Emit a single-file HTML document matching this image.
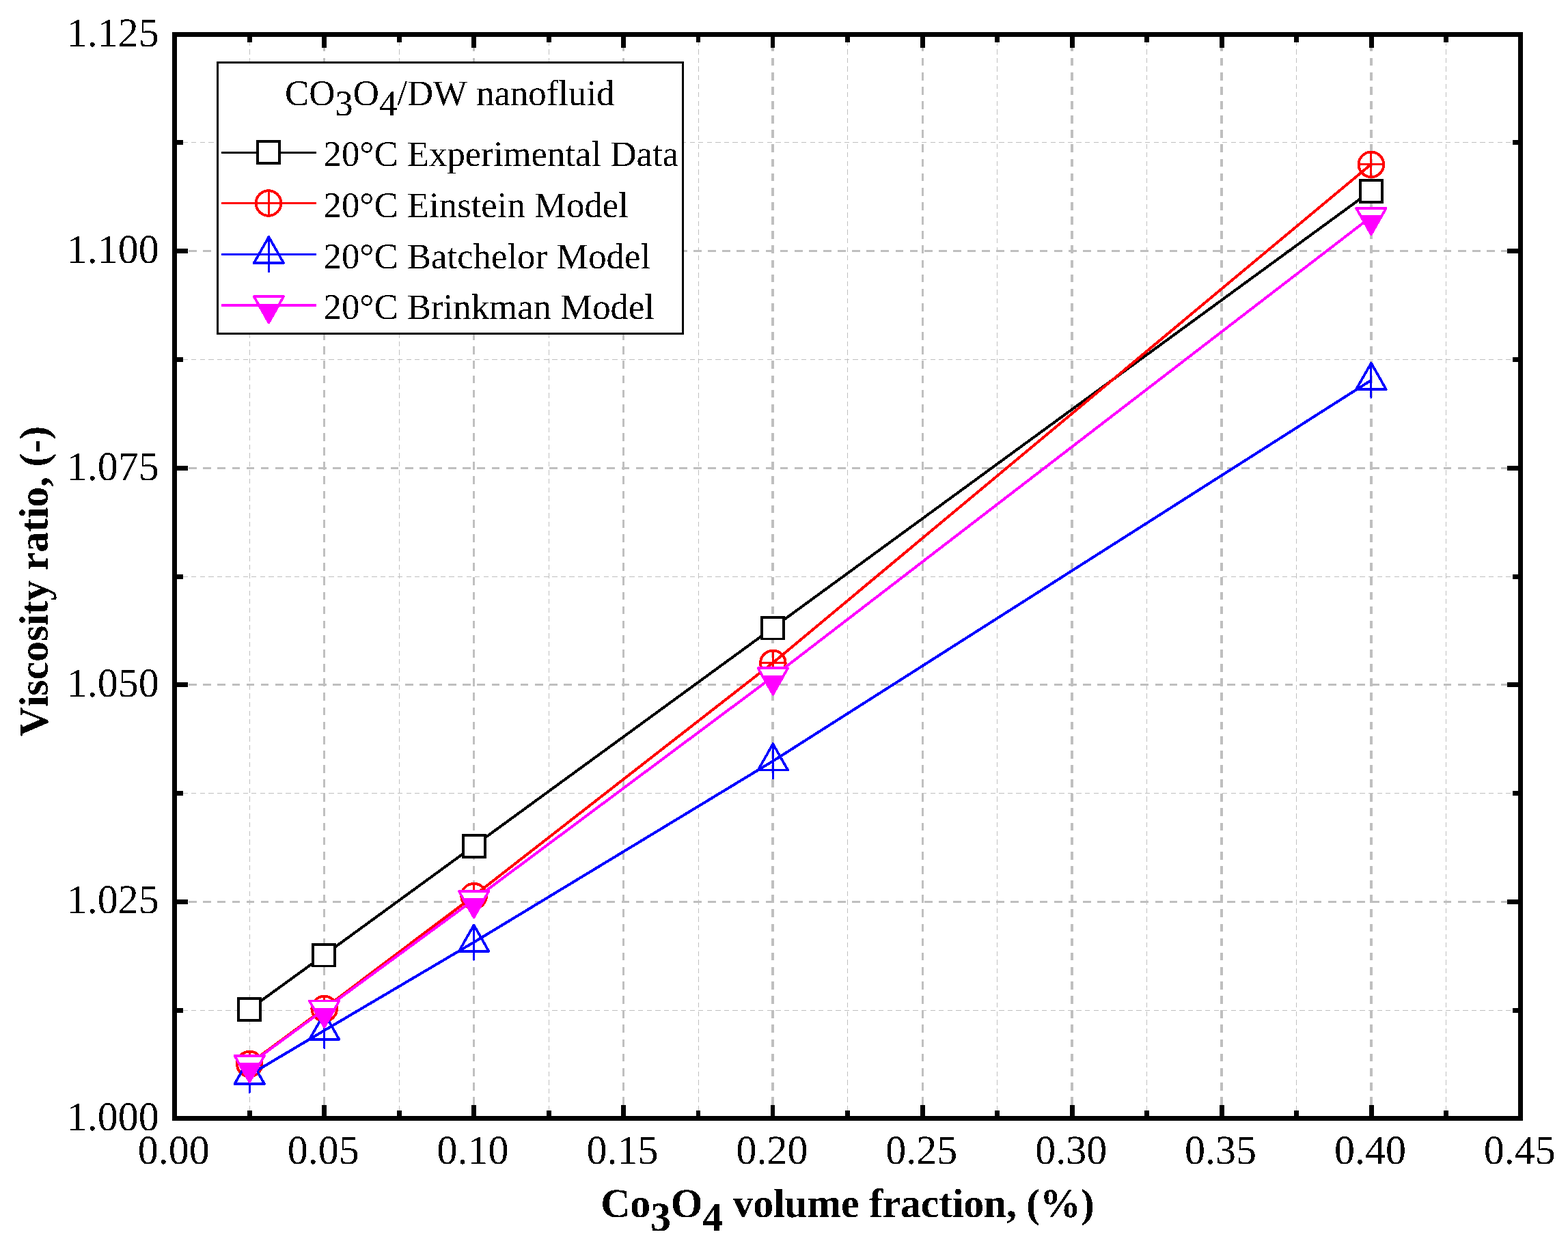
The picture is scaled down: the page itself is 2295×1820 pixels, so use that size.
<!DOCTYPE html>
<html lang="en">
<head>
<meta charset="utf-8">
<title>Viscosity ratio vs Co3O4 volume fraction</title>
<style>html,body{margin:0;padding:0;background:#ffffff;}body{width:2295px;height:1820px;overflow:hidden;}svg{display:block;}</style>
</head>
<body>
<svg width="2295" height="1820" viewBox="0 0 2295 1820">
<rect x="0" y="0" width="2295" height="1820" fill="#ffffff"/>
<g fill="none" stroke="#bfbfbf" shape-rendering="crispEdges">
<line x1="365.5" y1="1638.9" x2="365.5" y2="50.5" stroke-width="1" stroke-dasharray="7.3 5.275"/>
<line x1="584.5" y1="1638.9" x2="584.5" y2="50.5" stroke-width="1" stroke-dasharray="7.3 5.275"/>
<line x1="803.5" y1="1638.9" x2="803.5" y2="50.5" stroke-width="1" stroke-dasharray="7.3 5.275"/>
<line x1="1022.5" y1="1638.9" x2="1022.5" y2="50.5" stroke-width="1" stroke-dasharray="7.3 5.275"/>
<line x1="1240.5" y1="1638.9" x2="1240.5" y2="50.5" stroke-width="1" stroke-dasharray="7.3 5.275"/>
<line x1="1459.5" y1="1638.9" x2="1459.5" y2="50.5" stroke-width="1" stroke-dasharray="7.3 5.275"/>
<line x1="1678.5" y1="1638.9" x2="1678.5" y2="50.5" stroke-width="1" stroke-dasharray="7.3 5.275"/>
<line x1="1897.5" y1="1638.9" x2="1897.5" y2="50.5" stroke-width="1" stroke-dasharray="7.3 5.275"/>
<line x1="2116.5" y1="1638.9" x2="2116.5" y2="50.5" stroke-width="1" stroke-dasharray="7.3 5.275"/>
<line x1="255.0" y1="1479.5" x2="2225.5" y2="1479.5" stroke-width="1" stroke-dasharray="7.3 5.275"/>
<line x1="255.0" y1="1161.5" x2="2225.5" y2="1161.5" stroke-width="1" stroke-dasharray="7.3 5.275"/>
<line x1="255.0" y1="844.5" x2="2225.5" y2="844.5" stroke-width="1" stroke-dasharray="7.3 5.275"/>
<line x1="255.0" y1="526.5" x2="2225.5" y2="526.5" stroke-width="1" stroke-dasharray="7.3 5.275"/>
<line x1="255.0" y1="208.5" x2="2225.5" y2="208.5" stroke-width="1" stroke-dasharray="7.3 5.275"/>
<line x1="474.5" y1="1638.9" x2="474.5" y2="50.5" stroke-width="3" stroke-dasharray="11.7 9.43"/>
<line x1="693.5" y1="1638.9" x2="693.5" y2="50.5" stroke-width="3" stroke-dasharray="11.7 9.43"/>
<line x1="912.5" y1="1638.9" x2="912.5" y2="50.5" stroke-width="3" stroke-dasharray="11.7 9.43"/>
<line x1="1131.0" y1="1638.9" x2="1131.0" y2="50.5" stroke-width="4" stroke-dasharray="11.7 9.43"/>
<line x1="1350.5" y1="1638.9" x2="1350.5" y2="50.5" stroke-width="3" stroke-dasharray="11.7 9.43"/>
<line x1="1569.0" y1="1638.9" x2="1569.0" y2="50.5" stroke-width="4" stroke-dasharray="11.7 9.43"/>
<line x1="1788.0" y1="1638.9" x2="1788.0" y2="50.5" stroke-width="4" stroke-dasharray="11.7 9.43"/>
<line x1="2007.0" y1="1638.9" x2="2007.0" y2="50.5" stroke-width="4" stroke-dasharray="11.7 9.43"/>
<line x1="255.1" y1="1320.5" x2="2225.5" y2="1320.5" stroke-width="3" stroke-dasharray="11.7 9.41"/>
<line x1="255.1" y1="1002.5" x2="2225.5" y2="1002.5" stroke-width="3" stroke-dasharray="11.7 9.41"/>
<line x1="255.1" y1="685.5" x2="2225.5" y2="685.5" stroke-width="3" stroke-dasharray="11.7 9.41"/>
<line x1="255.1" y1="367.5" x2="2225.5" y2="367.5" stroke-width="3" stroke-dasharray="11.7 9.41"/>
</g>
<g shape-rendering="crispEdges">
<polyline points="365.24,1478.00 474.69,1398.60 693.58,1239.00 1131.36,919.60 2006.91,280.00" fill="none" stroke="#000000" stroke-width="4" stroke-linejoin="round" transform="translate(0 -0.45)"/>
<rect x="347" y="1460" width="36" height="36" fill="#000000"/><rect x="351" y="1464" width="28" height="28" fill="#ffffff"/>
<rect x="456" y="1381" width="36" height="35" fill="#000000"/><rect x="460" y="1385" width="28" height="28" fill="#ffffff"/>
<rect x="676" y="1221" width="36" height="36" fill="#000000"/><rect x="680" y="1225" width="28" height="28" fill="#ffffff"/>
<rect x="1113" y="902" width="36" height="35" fill="#000000"/><rect x="1117" y="906" width="28" height="28" fill="#ffffff"/>
<rect x="1989" y="262" width="36" height="36" fill="#000000"/><rect x="1993" y="266" width="28" height="28" fill="#ffffff"/>
<polyline points="365.24,1557.90 474.69,1477.00 693.58,1312.10 1131.36,970.90 2006.91,240.90" fill="none" stroke="#ff0000" stroke-width="4" stroke-linejoin="round" transform="translate(0 -0.45)"/>
<circle cx="365.24" cy="1557.90" r="18.30" fill="none" stroke="#ff0000" stroke-width="3.9"/><path d="M346.94 1557.90H383.54M365.24 1539.60V1576.20" fill="none" stroke="#ff0000" stroke-width="3"/>
<circle cx="474.69" cy="1477.00" r="18.30" fill="none" stroke="#ff0000" stroke-width="3.9"/><path d="M456.39 1477.00H492.99M474.69 1458.70V1495.30" fill="none" stroke="#ff0000" stroke-width="3"/>
<circle cx="693.58" cy="1312.10" r="18.30" fill="none" stroke="#ff0000" stroke-width="3.9"/><path d="M675.28 1312.10H711.88M693.58 1293.80V1330.40" fill="none" stroke="#ff0000" stroke-width="3"/>
<circle cx="1131.36" cy="970.90" r="18.30" fill="none" stroke="#ff0000" stroke-width="3.9"/><path d="M1113.06 970.90H1149.66M1131.36 952.60V989.20" fill="none" stroke="#ff0000" stroke-width="3"/>
<circle cx="2006.91" cy="240.90" r="18.30" fill="none" stroke="#ff0000" stroke-width="3.9"/><path d="M1988.61 240.90H2025.21M2006.91 222.60V259.20" fill="none" stroke="#ff0000" stroke-width="3"/>
<polyline points="365.24,1574.30 474.69,1509.30 693.58,1380.10 1131.36,1114.80 2006.91,557.20" fill="none" stroke="#0000ff" stroke-width="4" stroke-linejoin="round" transform="translate(0 -0.45)"/>
<path d="M365.24 1548.70L387.04 1587.00L343.44 1587.00Z" fill="none" stroke="#0000ff" stroke-width="3.7" stroke-linejoin="round"/><path d="M365.24 1548.70V1599.30" fill="none" stroke="#0000ff" stroke-width="3" stroke-linecap="round"/>
<path d="M474.69 1483.70L496.49 1522.00L452.89 1522.00Z" fill="none" stroke="#0000ff" stroke-width="3.7" stroke-linejoin="round"/><path d="M474.69 1483.70V1534.30" fill="none" stroke="#0000ff" stroke-width="3" stroke-linecap="round"/>
<path d="M693.58 1354.50L715.38 1392.80L671.78 1392.80Z" fill="none" stroke="#0000ff" stroke-width="3.7" stroke-linejoin="round"/><path d="M693.58 1354.50V1405.10" fill="none" stroke="#0000ff" stroke-width="3" stroke-linecap="round"/>
<path d="M1131.36 1089.20L1153.16 1127.50L1109.56 1127.50Z" fill="none" stroke="#0000ff" stroke-width="3.7" stroke-linejoin="round"/><path d="M1131.36 1089.20V1139.80" fill="none" stroke="#0000ff" stroke-width="3" stroke-linecap="round"/>
<path d="M2006.91 531.60L2028.71 569.90L1985.11 569.90Z" fill="none" stroke="#0000ff" stroke-width="3.7" stroke-linejoin="round"/><path d="M2006.91 531.60V582.20" fill="none" stroke="#0000ff" stroke-width="3" stroke-linecap="round"/>
<polyline points="365.24,1558.80 474.69,1478.50 693.58,1317.90 1131.36,991.30 2006.91,317.90" fill="none" stroke="#ff00ff" stroke-width="4" stroke-linejoin="round" transform="translate(0 -0.45)"/>
<path d="M343.44 1545.80L387.04 1545.80L365.24 1584.20Z" fill="#ffffff" stroke="#ff00ff" stroke-width="3.7" stroke-linejoin="round"/><path d="M349.58 1556.60L380.91 1556.60L365.24 1584.20Z" fill="#ff00ff" stroke="#ff00ff" stroke-width="1"/>
<path d="M452.89 1465.50L496.49 1465.50L474.69 1503.90Z" fill="#ffffff" stroke="#ff00ff" stroke-width="3.7" stroke-linejoin="round"/><path d="M459.02 1476.30L490.36 1476.30L474.69 1503.90Z" fill="#ff00ff" stroke="#ff00ff" stroke-width="1"/>
<path d="M671.78 1304.90L715.38 1304.90L693.58 1343.30Z" fill="#ffffff" stroke="#ff00ff" stroke-width="3.7" stroke-linejoin="round"/><path d="M677.91 1315.70L709.25 1315.70L693.58 1343.30Z" fill="#ff00ff" stroke="#ff00ff" stroke-width="1"/>
<path d="M1109.56 978.30L1153.16 978.30L1131.36 1016.70Z" fill="#ffffff" stroke="#ff00ff" stroke-width="3.7" stroke-linejoin="round"/><path d="M1115.69 989.10L1147.02 989.10L1131.36 1016.70Z" fill="#ff00ff" stroke="#ff00ff" stroke-width="1"/>
<path d="M1985.11 304.90L2028.71 304.90L2006.91 343.30Z" fill="#ffffff" stroke="#ff00ff" stroke-width="3.7" stroke-linejoin="round"/><path d="M1991.24 315.70L2022.58 315.70L2006.91 343.30Z" fill="#ff00ff" stroke="#ff00ff" stroke-width="1"/>
</g>
<g fill="none" stroke="#000000" shape-rendering="crispEdges">
<rect x="255.5" y="50.5" width="1970.0" height="1587.0" stroke-width="7"/>
<path d="M365.5 54.0v8M365.5 1634.0v-8" stroke-width="7"/>
<path d="M474.5 54.0v16M474.5 1634.0v-16" stroke-width="7"/>
<path d="M584.5 54.0v8M584.5 1634.0v-8" stroke-width="7"/>
<path d="M693.5 54.0v16M693.5 1634.0v-16" stroke-width="7"/>
<path d="M803.5 54.0v8M803.5 1634.0v-8" stroke-width="7"/>
<path d="M912.5 54.0v16M912.5 1634.0v-16" stroke-width="7"/>
<path d="M1022.0 54.0v8M1022.0 1634.0v-8" stroke-width="6"/>
<path d="M1131.0 54.0v16M1131.0 1634.0v-16" stroke-width="6"/>
<path d="M1240.5 54.0v8M1240.5 1634.0v-8" stroke-width="7"/>
<path d="M1350.5 54.0v16M1350.5 1634.0v-16" stroke-width="7"/>
<path d="M1459.5 54.0v8M1459.5 1634.0v-8" stroke-width="7"/>
<path d="M1569.5 54.0v16M1569.5 1634.0v-16" stroke-width="7"/>
<path d="M1678.5 54.0v8M1678.5 1634.0v-8" stroke-width="7"/>
<path d="M1788.5 54.0v16M1788.5 1634.0v-16" stroke-width="7"/>
<path d="M1897.5 54.0v8M1897.5 1634.0v-8" stroke-width="7"/>
<path d="M2007.5 54.0v16M2007.5 1634.0v-16" stroke-width="7"/>
<path d="M2116.5 54.0v8M2116.5 1634.0v-8" stroke-width="7"/>
<path d="M259.0 1479.5h9M2222.0 1479.5h-8" stroke-width="7"/>
<path d="M259.0 1320.5h16M2222.0 1320.5h-16" stroke-width="7"/>
<path d="M259.0 1161.5h9M2222.0 1161.5h-8" stroke-width="7"/>
<path d="M259.0 1002.5h16M2222.0 1002.5h-16" stroke-width="7"/>
<path d="M259.0 844.5h9M2222.0 844.5h-8" stroke-width="7"/>
<path d="M259.0 685.5h16M2222.0 685.5h-16" stroke-width="7"/>
<path d="M259.0 526.5h9M2222.0 526.5h-8" stroke-width="7"/>
<path d="M259.0 367.5h16M2222.0 367.5h-16" stroke-width="7"/>
<path d="M259.0 208.5h9M2222.0 208.5h-8" stroke-width="7"/>
</g>
<g shape-rendering="crispEdges">
<rect x="318.5" y="91.5" width="681" height="397" fill="#ffffff" stroke="#000000" stroke-width="3"/>
<line x1="325.5" y1="223.5" x2="461.5" y2="223.5" stroke="#000000" stroke-width="3" stroke-linecap="round"/>
<rect x="375" y="205" width="36" height="36" fill="#000000"/><rect x="379" y="209" width="28" height="28" fill="#ffffff"/>
<line x1="325.5" y1="297.5" x2="461.5" y2="297.5" stroke="#ff0000" stroke-width="3" stroke-linecap="round"/>
<circle cx="393.00" cy="297.50" r="18.30" fill="none" stroke="#ff0000" stroke-width="3.9"/><path d="M374.70 297.50H411.30M393.00 279.20V315.80" fill="none" stroke="#ff0000" stroke-width="3"/>
<line x1="325.5" y1="372.5" x2="461.5" y2="372.5" stroke="#0000ff" stroke-width="3" stroke-linecap="round"/>
<path d="M393.40 346.90L415.20 385.20L371.60 385.20Z" fill="none" stroke="#0000ff" stroke-width="3.7" stroke-linejoin="round"/><path d="M393.40 346.90V397.50" fill="none" stroke="#0000ff" stroke-width="3" stroke-linecap="round"/>
<line x1="325.5" y1="447.0" x2="461.5" y2="447.0" stroke="#ff00ff" stroke-width="4" stroke-linecap="round"/>
<path d="M371.60 434.00L415.20 434.00L393.40 472.40Z" fill="#ffffff" stroke="#ff00ff" stroke-width="3.7" stroke-linejoin="round"/><path d="M378.24 445.70L408.56 445.70L393.40 472.40Z" fill="#ff00ff" stroke="#ff00ff" stroke-width="1"/>
</g>
<defs><filter id="crisp" x="0" y="0" width="2295" height="1820" filterUnits="userSpaceOnUse" color-interpolation-filters="sRGB"><feComponentTransfer><feFuncA type="discrete" tableValues="0 1"/></feComponentTransfer></filter></defs>
<g font-family="'Liberation Serif','Times New Roman',Times,serif" fill="#000000" style="font-kerning:none;font-variant-ligatures:none" text-rendering="geometricPrecision" filter="url(#crisp)">
<text x="232.8" y="1654.8" font-size="60" text-anchor="end">1.000</text>
<text x="232.8" y="1337.4" font-size="60" text-anchor="end">1.025</text>
<text x="232.8" y="1020.0" font-size="60" text-anchor="end">1.050</text>
<text x="232.8" y="702.6" font-size="60" text-anchor="end">1.075</text>
<text x="232.8" y="385.2" font-size="60" text-anchor="end">1.100</text>
<text x="232.8" y="67.8" font-size="60" text-anchor="end">1.125</text>
<text x="254.3" y="1704.2" font-size="60" text-anchor="middle">0.00</text>
<text x="473.2" y="1704.2" font-size="60" text-anchor="middle">0.05</text>
<text x="692.1" y="1704.2" font-size="60" text-anchor="middle">0.10</text>
<text x="911.0" y="1704.2" font-size="60" text-anchor="middle">0.15</text>
<text x="1129.9" y="1704.2" font-size="60" text-anchor="middle">0.20</text>
<text x="1348.8" y="1704.2" font-size="60" text-anchor="middle">0.25</text>
<text x="1567.7" y="1704.2" font-size="60" text-anchor="middle">0.30</text>
<text x="1786.6" y="1704.2" font-size="60" text-anchor="middle">0.35</text>
<text x="2005.5" y="1704.2" font-size="60" text-anchor="middle">0.40</text>
<text x="2224.3" y="1704.2" font-size="60" text-anchor="middle">0.45</text>
<text x="879.3" y="1781.7" font-size="60" font-weight="bold" letter-spacing="-0.3">Co<tspan dy="20.7">3</tspan><tspan dy="-20.7">O</tspan><tspan dy="20.7">4</tspan><tspan dy="-20.7"> volume fraction, (%)</tspan></text>
<text transform="translate(69.5 1078.3) rotate(-90)" font-size="60" font-weight="bold" letter-spacing="-0.2">Viscosity ratio, (-)</text>
<text x="417" y="153.6" font-size="52.8">CO<tspan dy="15">3</tspan><tspan dy="-15">O</tspan><tspan dy="15">4</tspan><tspan dy="-15">/DW nanofluid</tspan></text>
<text x="473.5" y="243.3" font-size="52.8">20°C Experimental Data</text>
<text x="473.5" y="317.8" font-size="52.8">20°C Einstein Model</text>
<text x="473.5" y="392.8" font-size="52.8">20°C Batchelor Model</text>
<text x="473.5" y="467.0" font-size="52.8">20°C Brinkman Model</text>
</g>
</svg>
</body>
</html>
